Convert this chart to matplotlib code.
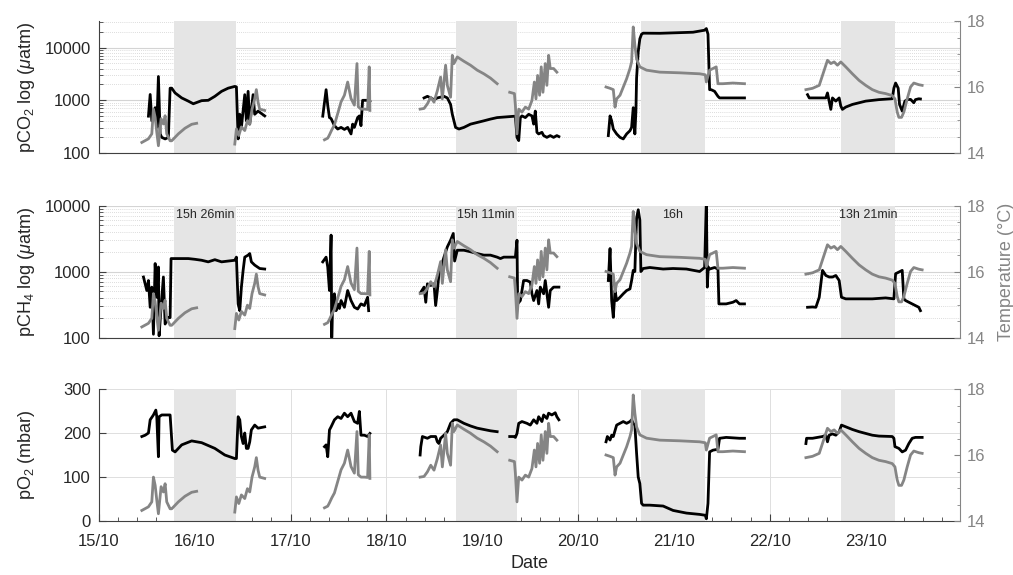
import numpy as np
import matplotlib
matplotlib.use("Agg")
import matplotlib.pyplot as plt
import matplotlib.dates as mdates
import matplotlib.transforms as mtransforms
from matplotlib.ticker import LogLocator, NullFormatter, MultipleLocator, FixedLocator
from datetime import datetime, timedelta

plt.rcParams['font.family'] = ['Liberation Sans', 'DejaVu Sans']
plt.rcParams['mathtext.fontset'] = 'custom'
plt.rcParams['mathtext.rm'] = 'Liberation Sans'
plt.rcParams['mathtext.it'] = 'Liberation Sans:italic'

nan = np.nan
# ---------------- data (time = decimal day of October) ----------------
temp_t = [15.447, 15.516, 15.551, 15.568, 15.586, 15.603, 15.620, 15.648, 15.672, 15.690, 15.707, 15.742,
          15.759, 15.828, 15.897, 15.967, 16.019, nan,
          16.417, 16.434, 16.459, 16.486, 16.521, 16.549, 16.573, 16.597, 16.625, 16.642, 16.660, 16.677, 16.729, nan,
          17.353, 17.387, 17.405, 17.429, 17.457, 17.491, 17.526, 17.561, 17.595, 17.630, 17.665, 17.692, 17.706,
          17.734, 17.769, 17.803, 17.820, 17.827, nan,
          18.351, 18.392, 18.427, 18.462, 18.496, 18.531, 18.565, 18.583, 18.617, 18.635, 18.669, 18.687, 18.704,
          18.739, 18.808, 18.877, 18.947, 19.016, 19.085, 19.155, nan,
          19.286, 19.335, 19.345, 19.362, 19.380, 19.414, 19.449, 19.484, 19.518, 19.543, 19.560, 19.577, 19.598,
          19.615, 19.633, 19.657, 19.674, 19.692, 19.709, 19.744, 19.778, nan,
          20.291, 20.333, 20.367, 20.385, 20.402, 20.437, 20.471, 20.506, 20.541, 20.558, 20.575, 20.592, 20.610,
          20.644, 20.714, 20.852, 21.060, 21.268, 21.327, 21.338, 21.372, 21.441, 21.459, 21.511, 21.615, 21.736, nan,
          22.377, 22.446, 22.516, 22.550, 22.585, 22.602, 22.637, 22.672, 22.706, 22.741, 22.793, 22.862, 22.932,
          23.001, 23.070, 23.139, 23.209, 23.278, 23.306, 23.330, 23.347, 23.375, 23.399, 23.434, 23.469, 23.503,
          23.555, 23.590]
temp_v = [14.32, 14.43, 14.58, 15.33, 15.08, 14.63, 14.22, 15.04, 14.88, 15.13, 14.58, 14.37,
          14.37, 14.58, 14.75, 14.87, 14.90, nan,
          14.27, 14.73, 14.53, 14.79, 14.68, 14.98, 14.88, 15.33, 15.64, 15.92, 15.54, 15.33, 15.29, nan,
          14.40, 14.45, 14.55, 14.70, 14.85, 15.20, 15.55, 15.75, 16.15, 15.65, 15.45, 16.71, 15.40,
          15.33, 15.33, 15.32, 16.61, 15.29, nan,
          15.33, 15.35, 15.49, 15.69, 15.54, 15.89, 16.30, 15.64, 16.66, 16.05, 15.69, 16.96, 16.71,
          16.91, 16.78, 16.66, 16.51, 16.40, 16.27, 16.10, nan,
          15.84, 15.80, 15.45, 14.58, 15.33, 15.24, 15.39, 15.33, 15.59, 16.15, 15.64, 16.35, 15.75,
          16.61, 15.84, 16.71, 16.05, 16.96, 16.56, 16.56, 16.45, nan,
          16.00, 15.96, 15.92, 15.39, 15.64, 15.75, 16.00, 16.25, 16.56, 16.76, 17.82, 17.27, 16.85,
          16.61, 16.51, 16.45, 16.43, 16.40, 16.37, 16.15, 16.51, 16.61, 16.10, 16.10, 16.12, 16.10, nan,
          15.92, 15.96, 16.05, 16.35, 16.66, 16.81, 16.71, 16.76, 16.66, 16.76, 16.61, 16.40, 16.20,
          16.05, 15.92, 15.84, 15.80, 15.74, 15.64, 15.24, 15.08, 15.08, 15.24, 15.64, 16.00, 16.12,
          16.07, 16.05]

co2_t = [15.516, 15.534, 15.551, 15.586, 15.603, 15.620, 15.638, 15.655, 15.690, 15.724, 15.742, 15.759,
         15.794, 15.863, 15.932, 15.984, 16.071, 16.140, 16.209, 16.279, 16.348, 16.417, 16.434, 16.452,
         16.469, 16.486, 16.521, 16.538, 16.556, 16.573, 16.608, 16.625, 16.660, 16.729, nan,
         17.335, 17.370, 17.387, 17.405, 17.422, 17.457, 17.491, 17.526, 17.561, 17.595, 17.630, 17.647,
         17.665, 17.699, 17.717, 17.734, 17.751, 17.803, 17.827, nan,
         18.392, 18.427, 18.462, 18.496, 18.531, 18.600, 18.635, 18.669, 18.687, 18.721, 18.756, 18.808,
         18.877, 18.947, 19.016, 19.085, 19.155, 19.345, 19.362, 19.380, 19.397, 19.414, 19.449, 19.484,
         19.518, 19.536, 19.553, 19.570, 19.588, 19.622, 19.640, 19.674, 19.709, 19.744, 19.778, 19.799, nan,
         20.315, 20.333, 20.350, 20.367, 20.402, 20.437, 20.471, 20.506, 20.541, 20.558, 20.575, 20.592,
         20.603, 20.610, 20.627, 20.644, 20.662, 20.679, 20.852, 21.199, 21.320, 21.338, 21.355, 21.372,
         21.389, 21.424, 21.459, 21.476, 21.545, 21.736, nan,
         22.394, 22.412, 22.516, 22.585, 22.602, 22.620, 22.637, 22.654, 22.689, 22.724, 22.741, 22.758,
         22.793, 22.862, 22.932, 23.001, 23.139, 23.278, 23.295, 23.313, 23.340, 23.354, 23.382, 23.410,
         23.434, 23.469, 23.486, 23.503, 23.520, 23.555, 23.572]
co2_v = [500, 1290, 408, 725, 306, 2830, 230, 198, 185, 198, 1700, 1700,
         1380, 1110, 965, 860, 985, 1000, 1190, 1480, 1700, 1835, 1800, 185,
         543, 306, 1280, 408, 1480, 353, 1280, 543, 625, 506, nan,
         500, 1590, 800, 470, 450, 330, 285, 306, 280, 306, 230, 353,
         306, 470, 506, 330, 1000, 1000, 950, nan,
         1110, 1190, 1110, 1030, 1110, 1190, 1110, 835, 543, 306, 285, 306,
         353, 379, 408, 440, 470, 500, 198, 172, 470, 506, 470, 543,
         506, 353, 625, 247, 230, 247, 214, 198, 214, 198, 214, 205, nan,
         214, 506, 408, 285, 230, 198, 185, 230, 265, 306, 725, 230,
         625, 2640, 8290, 14700, 18000, 18800, 18700, 19600, 21400, 23000, 18000, 1590,
         1590, 1480, 1190, 1110, 1110, 1110, nan,
         1280, 1110, 1110, 1110, 1380, 965, 673, 1110, 965, 1110, 780, 673,
         745, 835, 900, 965, 1030, 1070, 1700, 2130, 1700, 835, 625, 965,
         1030, 1040, 965, 900, 1030, 1070, 1060]

ch4_t = [15.464, 15.482, 15.499, 15.516, 15.534, 15.551, 15.568, 15.586, 15.603, 15.620, 15.627, 15.648,
         15.672, 15.690, 15.724, 15.742, 15.752, 15.794, 15.932, 16.001, 16.071, 16.140, 16.209, 16.279,
         16.417, 16.434, 16.452, 16.469, 16.486, 16.504, 16.521, 16.556, 16.573, 16.590, 16.625, 16.677, 16.729, nan,
         17.335, 17.370, 17.387, 17.405, 17.422, 17.429, 17.439, 17.457, 17.474, 17.491, 17.509, 17.526,
         17.561, 17.595, 17.630, 17.665, 17.699, 17.734, 17.769, 17.803, 17.814, nan,
         18.358, 18.392, 18.410, 18.427, 18.462, 18.496, 18.513, 18.531, 18.548, 18.600, 18.635, 18.669,
         18.697, 18.711, 18.739, 18.808, 18.877, 18.947, 19.016, 19.085, 19.155, 19.189, 19.224, 19.293,
         19.345, 19.362, 19.369, 19.397, 19.431, 19.466, 19.501, 19.518, 19.536, 19.570, 19.588, 19.605,
         19.640, 19.657, 19.674, 19.692, 19.709, 19.744, 19.778, 19.799, nan,
         20.315, 20.333, 20.350, 20.367, 20.385, 20.402, 20.437, 20.471, 20.506, 20.541, 20.558, 20.575,
         20.592, 20.603, 20.610, 20.627, 20.644, 20.655, 20.679, 20.748, 20.887, 20.991, 21.130, 21.268,
         21.320, 21.338, 21.348, 21.358, 21.372, 21.424, 21.459, 21.469, 21.545, 21.615, 21.649, 21.684, 21.736, nan,
         22.394, 22.446, 22.481, 22.516, 22.533, 22.550, 22.585, 22.620, 22.654, 22.689, 22.724, 22.748,
         22.793, 22.932, 23.070, 23.209, 23.295, 23.313, 23.347, 23.382, 23.399, 23.417, 23.486, 23.520,
         23.555, 23.572]
ch4_v = [825, 650, 515, 730, 287, 580, 112, 1320, 407, 1170, 106, 287,
         825, 160, 200, 200, 1570, 1570, 1570, 1530, 1480, 1400, 1510, 1400,
         1480, 1650, 323, 255, 580, 1040, 1650, 1770, 1870, 1400, 1250, 1110, 1090, nan,
         1400, 1650, 1170, 515, 3560, 100, 363, 460, 255, 323, 275, 363,
         287, 515, 363, 287, 270, 323, 305, 407, 255, nan,
         485, 580, 342, 650, 615, 650, 305, 515, 925, 1650, 2360, 2980,
         3770, 1440, 2100, 2100, 1990, 1870, 1770, 1770, 1650, 1570, 1650, 1650,
         1650, 2980, 323, 363, 730, 730, 690, 460, 363, 515, 323, 580,
         460, 730, 460, 287, 515, 580, 580, 580, nan,
         730, 2230, 363, 202, 515, 363, 407, 460, 515, 545, 730, 1040,
         1000, 3370, 6400, 8620, 6020, 1000, 1110, 1150, 1090, 1110, 1090, 1000,
         1150, 12000, 580, 1170, 1090, 1150, 1090, 323, 323, 342, 363, 323, 323, nan,
         287, 290, 287, 407, 650, 1040, 870, 825, 825, 870, 730, 407,
         385, 385, 385, 398, 385, 925, 980, 1040, 385, 363, 323, 305,
         287, 255]

o2_t = [15.447, 15.482, 15.516, 15.534, 15.568, 15.593, 15.603, 15.620, 15.627, 15.655, 15.690, 15.742,
        15.766, 15.794, 15.863, 15.967, 16.071, 16.209, 16.313, 16.417, 16.434, 16.452, 16.469, 16.486,
        16.504, 16.521, 16.538, 16.556, 16.573, 16.590, 16.625, 16.660, 16.729, nan,
        17.353, 17.370, 17.387, 17.405, 17.422, 17.457, 17.491, 17.526, 17.561, 17.595, 17.630, 17.665,
        17.699, 17.717, 17.734, 17.769, 17.803, 17.827, nan,
        18.351, 18.358, 18.375, 18.427, 18.462, 18.513, 18.531, 18.548, 18.565, 18.600, 18.635, 18.669,
        18.704, 18.739, 18.808, 18.877, 18.947, 19.016, 19.085, 19.155, nan,
        19.286, 19.328, 19.345, 19.362, 19.380, 19.414, 19.466, 19.501, 19.536, 19.570, 19.588, 19.622,
        19.640, 19.674, 19.692, 19.726, 19.761, 19.778, 19.799, nan,
        20.291, 20.305, 20.333, 20.350, 20.367, 20.402, 20.437, 20.471, 20.506, 20.541, 20.558, 20.575,
        20.592, 20.610, 20.627, 20.644, 20.662, 20.679, 20.748, 20.887, 20.991, 21.130, 21.268, 21.327,
        21.338, 21.355, 21.365, 21.372, 21.407, 21.459, 21.476, 21.545, 21.615, 21.684, 21.736, nan,
        22.377, 22.384, 22.446, 22.550, 22.585, 22.602, 22.620, 22.654, 22.689, 22.724, 22.748, 22.793,
        22.862, 22.932, 23.001, 23.070, 23.139, 23.278, 23.295, 23.306, 23.347, 23.382, 23.417, 23.451,
        23.486, 23.520, 23.590]
o2_v = [192, 195, 200, 230, 241, 252, 237, 146, 237, 241, 241, 241,
        161, 157, 173, 182, 178, 165, 150, 142, 142, 237, 230, 192,
        176, 200, 165, 165, 180, 207, 218, 211, 214, nan,
        169, 173, 146, 207, 214, 230, 237, 233, 245, 237, 245, 226,
        222, 249, 195, 195, 192, 199, nan,
        150, 169, 192, 188, 192, 192, 180, 176, 188, 195, 203, 222,
        230, 230, 222, 216, 211, 208, 205, 203, nan,
        192, 192, 190, 199, 222, 226, 222, 218, 230, 222, 237, 226,
        241, 233, 245, 241, 246, 237, 230, nan,
        180, 192, 184, 195, 192, 218, 222, 226, 222, 226, 230, 222,
        218, 154, 100, 85, 40, 36, 36, 34, 24, 18, 15, 13,
        5, 40, 108, 157, 161, 163, 188, 190, 189, 188, 188, nan,
        176, 188, 188, 192, 195, 180, 195, 198, 195, 203, 218, 214,
        208, 203, 199, 195, 193, 192, 188, 169, 165, 157, 161, 176,
        188, 190, 190]

night_start = [15.783, 18.725, 20.655, 22.747]
night_hours = [15 + 26 / 60, 15 + 11 / 60, 16.0, 13 + 21 / 60]
night_labels = ['15h 26min', '15h 11min', '16h', '13h 21min']
day_ticks = [15, 16, 17, 18, 19, 20, 21, 22, 23]

# ---------------- helpers ----------------
base = datetime(2019, 10, 1)


def to_num(days):
    out = []
    for d in days:
        if np.isnan(d):
            out.append(np.nan)
        else:
            out.append(mdates.date2num(base + timedelta(days=d - 1)))
    return np.array(out)


BLACK = '#000000'
GREY = '#858585'
SHADE = '#e5e5e5'
AXC = '#404040'
RC = '#858585'

fig = plt.figure(figsize=(10.13, 5.75), dpi=100)
L, W, H = 99 / 1013, 861 / 1013, 132 / 575
bottoms = [1 - 153 / 575, 1 - 337.5 / 575, 1 - 521 / 575]

series = [(co2_t, co2_v), (ch4_t, ch4_v), (o2_t, o2_v)]
ylabels = ['pCO$_2$ log ($\\mu$atm)', 'pCH$_4$ log ($\\mu$atm)', 'pO$_2$ (mbar)']
xmin = to_num([15.0])[0]
xmax = to_num([23.985])[0]

for i in range(3):
    ax = fig.add_axes([L, bottoms[i], W, H])
    ax.set_axisbelow(True)
    tx, vy = series[i]
    ax.plot(to_num(tx), vy, color=BLACK, lw=2.0, zorder=3)
    for s, h in zip(night_start, night_hours):
        a, b = to_num([s, s + h / 24])
        ax.axvspan(a, b, color=SHADE, lw=0, zorder=1)
    ax.set_xlim(xmin, xmax)
    if i < 2:
        ax.set_yscale('log')
        ax.set_ylim(100, 32000 if i == 0 else 10000)
        ax.yaxis.set_major_locator(FixedLocator([100, 1000, 10000]))
        ax.set_yticklabels(['100', '1000', '10000'])
        ax.yaxis.set_minor_locator(LogLocator(base=10, subs=np.arange(2, 10)))
        ax.yaxis.set_minor_formatter(NullFormatter())
        ax.grid(True, which='major', axis='y', color='#d4d4d4', lw=0.8)
        ax.grid(True, which='minor', axis='y', color='#d0d0d0', lw=0.6, ls=(0, (1, 1.5)))
        ax.tick_params(axis='x', which='both', bottom=False, labelbottom=False)
    else:
        ax.set_ylim(0, 300)
        ax.set_yticks([0, 100, 200, 300])
        ax.grid(True, which='major', axis='both', color='#dedede', lw=0.7)
    ax.xaxis.set_major_locator(FixedLocator(to_num(day_ticks)))
    ax.xaxis.set_minor_locator(MultipleLocator(0.2))
    ax.xaxis.set_major_formatter(mdates.DateFormatter('%d/%m'))
    ax.tick_params(axis='x', which='major', direction='in', length=5, color=AXC,
                   labelsize=12, labelcolor='#262626', pad=9)
    ax.tick_params(axis='x', which='minor', direction='in', length=3, color=AXC)
    ax.tick_params(axis='y', which='major', direction='in', length=5, color=AXC,
                   labelsize=12, labelcolor='#262626', pad=6)
    ax.tick_params(axis='y', which='minor', direction='in', length=3, color=AXC)
    for sp in ['top', 'right']:
        ax.spines[sp].set_visible(False)
    for sp in ['left', 'bottom']:
        ax.spines[sp].set_color(AXC)
        ax.spines[sp].set_linewidth(0.8)
    ax.set_ylabel(ylabels[i], fontsize=13, color='#262626')
    ax.yaxis.set_label_coords(-0.072, 0.5)

    ax2 = ax.twinx()
    ax2.plot(to_num(temp_t), temp_v, color=GREY, lw=2.0, zorder=3)
    ax2.set_ylim(14, 18)
    ax2.set_yticks([14, 16, 18])
    ax2.yaxis.set_minor_locator(MultipleLocator(0.5))
    ax2.tick_params(axis='y', which='major', direction='in', length=4, color=RC,
                    labelsize=12, labelcolor=RC, pad=5)
    ax2.tick_params(axis='y', which='minor', direction='in', length=2.5, color=RC)
    for sp in ['top', 'left', 'bottom']:
        ax2.spines[sp].set_visible(False)
    ax2.spines['right'].set_color(RC)
    ax2.spines['right'].set_linewidth(0.8)
    ax2.set_xlim(xmin, xmax)

    if i == 1:
        trans = mtransforms.blended_transform_factory(ax.transData, ax.transAxes)
        for s, h, lab in zip(night_start, night_hours, night_labels):
            a, b = to_num([s, s + h / 24])
            ax.text((a + b) / 2, 0.93, lab, transform=trans, ha='center', va='center',
                    fontsize=9, color='#262626', zorder=5)
        ax2.set_ylabel('Temperature (°C)', fontsize=13, color=RC)
        ax2.yaxis.set_label_coords(1.044, 0.5)
    if i == 2:
        ax.set_xlabel('Date', fontsize=13, color='#262626', labelpad=5)

fig.savefig('out.png', dpi=100)
